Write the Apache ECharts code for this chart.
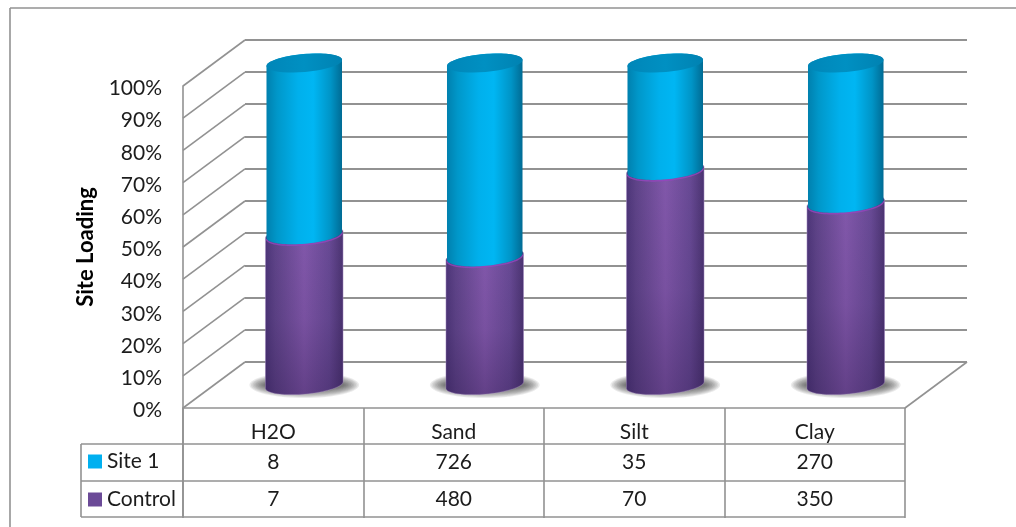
<!DOCTYPE html>
<html>
<head>
<meta charset="utf-8">
<style>
  html, body { margin: 0; padding: 0; background: #fff; }
  #chart { width: 1016px; height: 527px; }
</style>
<script src="https://cdn.jsdelivr.net/npm/echarts@6/dist/echarts.min.js"></script>
</head>
<body>
<div id="chart"></div>
<script>
// Soil fractions and their loadings, shown as 100% stacked cylinders
const categories = ['H2O', 'Sand', 'Silt', 'Clay'];
const site1 = [8, 726, 35, 270];
const control = [7, 480, 70, 350];
const percentTicks = [0, 10, 20, 30, 40, 50, 60, 70, 80, 90, 100];

const FONT = 'Lato, "Open Sans", sans-serif';
const INK = '#1c1c1c';
const RULE = '#929292';

// Projection of the chart floor: the wall sits this far behind the front plane
const DEPTH_X = 62;
const DEPTH_Y = 46;
const TILT = -5 * Math.PI / 180;
const CAP_RY = 9;
const BAR_RATIO = 0.21;

// Table row baselines, shared by the rules and the cell text
const ROW_TOP = 444, ROW_MID = 481, ROW_BOTTOM = 517;
const TABLE_LEFT = 81, TABLE_RIGHT = 905;

const blueBody = [
  [0, '#0080ae'], [0.14, '#0097c9'], [0.42, '#00b0ec'], [0.62, '#00b6f3'],
  [0.85, '#0094c6'], [1, '#006b94']
];
const purpleBody = [
  [0, '#4c3578'], [0.13, '#5f4489'], [0.5, '#8258ab'], [0.82, '#684a95'], [1, '#4a3370']
];

// A point on the tilted ellipse of a cylinder's circular section
function ellipsePoint(c, rx, t) {
  const ex = rx * Math.cos(t), ey = CAP_RY * Math.sin(t);
  return [c[0] + ex * Math.cos(TILT) - ey * Math.sin(TILT),
          c[1] + ex * Math.sin(TILT) + ey * Math.cos(TILT)];
}

function arc(c, rx, from, to) {
  const pts = [];
  for (let k = 0; k <= 40; k++) {
    pts.push(ellipsePoint(c, rx, from + (to - from) * k / 40));
  }
  return pts;
}

// Side wall of a cylinder: back half of the top section, front half of the base
function wall(lo, hi, rx) {
  return arc(hi, rx, Math.PI, 2 * Math.PI).concat(arc(lo, rx, 0, Math.PI));
}

function sectionCentre(api, index, pct) {
  const p = api.coord([index, pct]);
  return [p[0] + DEPTH_X / 2, p[1] - DEPTH_Y / 2];
}

function cell(api, index, value, y) {
  return {
    type: 'text',
    style: {
      x: api.coord([index, 0])[0], y: y,
      text: String(value), fill: INK, font: '21px ' + FONT,
      align: 'center', verticalAlign: 'middle'
    }
  };
}

// Soft contact shadow under a cylinder, built from stacked translucent ellipses
function contactShadow(c, rx) {
  const layers = [];
  for (let k = 0; k < 10; k++) {
    layers.push({
      type: 'ellipse',
      shape: { cx: c[0], cy: c[1], rx: rx + 17 - k * 1.6, ry: CAP_RY + 4 - k * 0.9 },
      style: { fill: 'rgba(60,60,60,0.1)' }
    });
  }
  return layers;
}

function renderControl(params, api) {
  const i = api.value(0);
  const pct = api.value(1) / (site1[i] + control[i]) * 100;
  const rx = params.coordSys.width / categories.length * BAR_RATIO;
  const lo = sectionCentre(api, i, 0);
  const hi = sectionCentre(api, i, pct);
  return {
    type: 'group',
    children: contactShadow(lo, rx).concat([
      {
        type: 'polygon',
        shape: { points: wall(lo, hi, rx + 1) },
        style: {
          fill: new echarts.graphic.LinearGradient(0, 0, 1, 0,
            purpleBody.map(s => ({ offset: s[0], color: s[1] }))),
          stroke: 'rgba(165,140,195,0.55)', lineWidth: 1
        }
      },
      {
        type: 'polygon',
        shape: { points: wall(lo, hi, rx + 1) },
        style: {
          fill: new echarts.graphic.LinearGradient(0, 0, 0, 1, [
            { offset: 0, color: 'rgba(40,20,70,0)' },
            { offset: 0.55, color: 'rgba(40,20,70,0.1)' },
            { offset: 1, color: 'rgba(40,20,70,0.35)' }
          ])
        }
      },
      cell(api, i, api.value(1), (ROW_MID + ROW_BOTTOM) / 2)
    ])
  };
}

function renderSite(params, api) {
  const i = api.value(0);
  const pct = control[i] / (site1[i] + control[i]) * 100;
  const rx = params.coordSys.width / categories.length * BAR_RATIO;
  const lo = sectionCentre(api, i, pct);
  const hi = sectionCentre(api, i, 100);
  return {
    type: 'group',
    children: [
      {
        type: 'polyline',
        shape: { points: arc([lo[0], lo[1] + 1], rx, 0, Math.PI) },
        style: { fill: 'none', stroke: 'rgba(150,70,190,0.8)', lineWidth: 1.5 }
      },
      {
        type: 'polygon',
        shape: { points: wall(lo, hi, rx) },
        style: {
          fill: new echarts.graphic.LinearGradient(0, 0, 1, 0,
            blueBody.map(s => ({ offset: s[0], color: s[1] })))
        }
      },
      {
        type: 'polygon',
        shape: { points: arc(hi, rx, 0, 2 * Math.PI) },
        style: {
          fill: new echarts.graphic.LinearGradient(0, 0, 1, 0, [
            { offset: 0, color: '#0086b8' }, { offset: 0.5, color: '#0090c2' }, { offset: 1, color: '#0082b2' }
          ])
        }
      },
      cell(api, i, api.value(1), (ROW_TOP + ROW_MID) / 2)
    ]
  };
}

// Depth edges of the left wall and the right side of the floor
function renderDepthEdges(params, api) {
  const pct = api.value(0);
  const y = api.coord([0, pct])[1];
  const x = params.coordSys.x;
  const lines = [{
    type: 'line',
    shape: { x1: x, y1: y, x2: x + DEPTH_X, y2: y - DEPTH_Y },
    style: { stroke: RULE, lineWidth: 1.6 }
  }];
  if (pct === 0) {
    const xr = x + params.coordSys.width;
    lines.push({
      type: 'line',
      shape: { x1: xr, y1: y, x2: xr + DEPTH_X, y2: y - DEPTH_Y },
      style: { stroke: RULE, lineWidth: 1.6 }
    });
  }
  return { type: 'group', children: lines };
}

function rule(x1, y1, x2, y2) {
  return {
    type: 'line', silent: true,
    shape: { x1, y1, x2, y2 },
    style: { stroke: RULE, lineWidth: 1.6 }
  };
}

const chart = echarts.init(document.getElementById('chart'), null, { renderer: 'canvas' });

chart.setOption({
  animation: false,
  backgroundColor: '#fff',
  grid: [
    { left: 183, top: 86, width: 722, height: 322 },
    { left: 245, top: 39.5, width: 722, height: 322.5 },
    // Carries only the percent labels, which sit slightly below their ticks
    { left: 183, top: 88.5, width: 722, height: 322 }
  ],
  xAxis: [
    {
      type: 'category', gridIndex: 0, data: categories,
      axisLine: { lineStyle: { color: RULE, width: 1.6 } },
      axisTick: { show: true, length: 110, lineStyle: { color: RULE, width: 1.6 } },
      axisLabel: { color: INK, fontFamily: FONT, fontSize: 21, margin: 14 }
    },
    {
      type: 'category', gridIndex: 1, data: categories,
      axisLine: { show: false }, axisTick: { show: false }, axisLabel: { show: false }
    },
    {
      type: 'category', gridIndex: 2, data: categories,
      axisLine: { show: false }, axisTick: { show: false }, axisLabel: { show: false }
    }
  ],
  yAxis: [
    {
      type: 'value', gridIndex: 0, min: 0, max: 100, interval: 10,
      name: 'Site Loading', nameLocation: 'middle', nameGap: 86, nameRotate: 90,
      nameTextStyle: { color: '#000', fontFamily: FONT, fontSize: 22, fontWeight: 'bold' },
      axisLine: { show: true, lineStyle: { color: RULE, width: 1.6 } },
      axisTick: { show: false },
      splitLine: { show: false },
      axisLabel: { show: false }
    },
    {
      type: 'value', gridIndex: 1, min: 0, max: 100, interval: 10,
      axisLine: { show: false }, axisTick: { show: false }, axisLabel: { show: false },
      splitLine: { show: true, lineStyle: { color: RULE, width: 1.8 } }
    },
    {
      type: 'value', gridIndex: 2, min: 0, max: 100, interval: 10,
      axisLine: { show: false }, axisTick: { show: false }, splitLine: { show: false },
      axisLabel: { color: INK, fontFamily: FONT, fontSize: 21, margin: 21, formatter: '{value}%' }
    }
  ],
  legend: {
    data: [{ name: 'Site 1', icon: 'rect' }, { name: 'Control', icon: 'rect' }],
    orient: 'vertical', left: 88, top: 451, padding: 0,
    itemWidth: 14, itemHeight: 14, itemGap: 17,
    selectedMode: false,
    textStyle: { color: INK, fontFamily: FONT, fontSize: 21 }
  },
  series: [
    {
      type: 'custom', name: 'edges', xAxisIndex: 0, yAxisIndex: 0, z: 1,
      silent: true, renderItem: renderDepthEdges,
      data: percentTicks.map(v => [v]), encode: { y: 0 }
    },
    {
      type: 'custom', name: 'Control', xAxisIndex: 0, yAxisIndex: 0, z: 3,
      itemStyle: { color: '#6b4a97' }, renderItem: renderControl,
      data: control.map((v, i) => [i, v]), encode: { x: 0 }
    },
    {
      type: 'custom', name: 'Site 1', xAxisIndex: 0, yAxisIndex: 0, z: 4,
      itemStyle: { color: '#00b0f0' }, renderItem: renderSite,
      data: site1.map((v, i) => [i, v]), encode: { x: 0 }
    }
  ],
  graphic: {
    elements: [
      rule(10, 8, 1016, 8),
      rule(10, 8, 10, 527),
      rule(TABLE_LEFT, ROW_TOP, TABLE_RIGHT, ROW_TOP),
      rule(TABLE_LEFT, ROW_MID, TABLE_RIGHT, ROW_MID),
      rule(TABLE_LEFT, ROW_BOTTOM, TABLE_RIGHT, ROW_BOTTOM),
      rule(TABLE_LEFT, ROW_TOP, TABLE_LEFT, ROW_BOTTOM),
      rule(183, 408, 183, ROW_BOTTOM)
    ]
  }
});
</script>
</body>
</html>
